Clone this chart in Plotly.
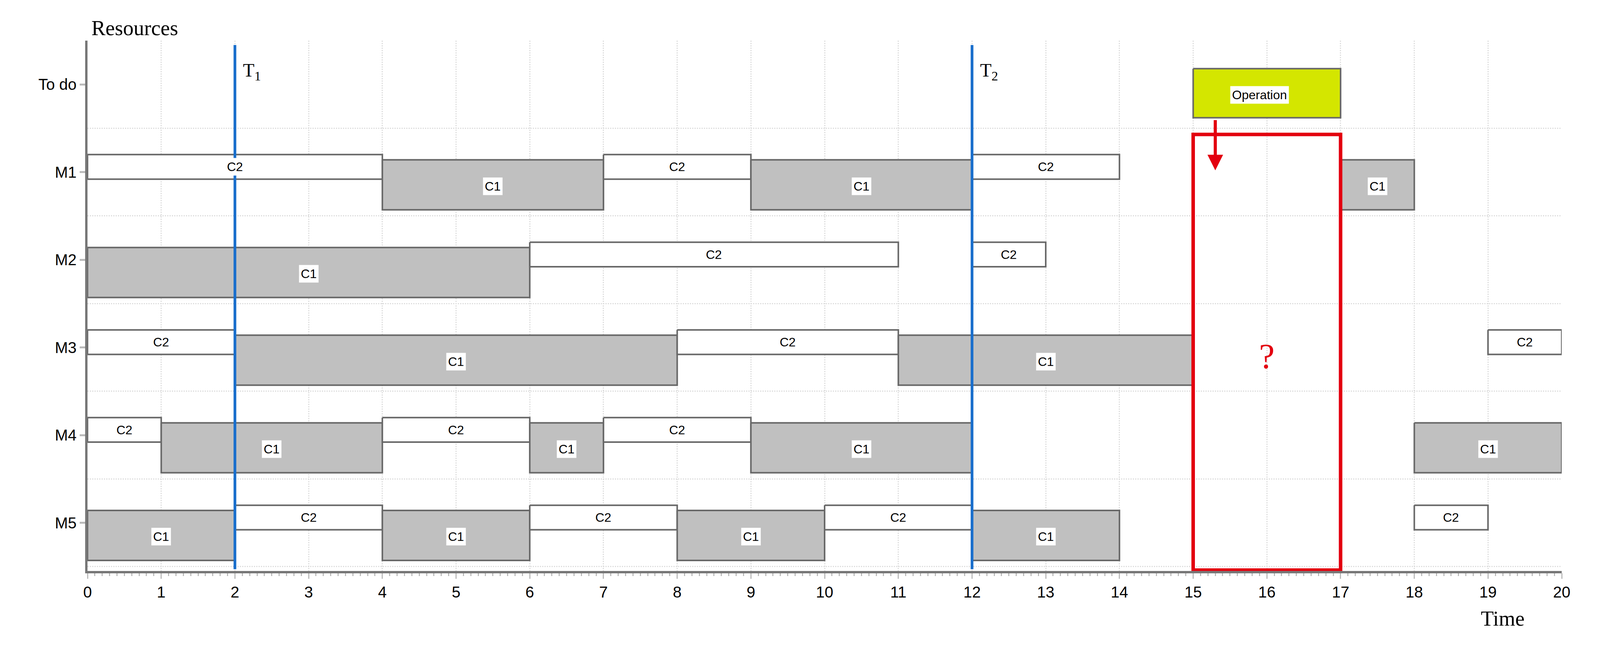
import plotly.graph_objects as go

rows = ["To do", "M1", "M2", "M3", "M4", "M5"]

# (row, class, start, end)
tasks = [
    ("M1", "C2", 0, 4), ("M1", "C1", 4, 7), ("M1", "C2", 7, 9), ("M1", "C1", 9, 12),
    ("M1", "C2", 12, 14), ("M1", "C1", 17, 18),
    ("M2", "C1", 0, 6), ("M2", "C2", 6, 11), ("M2", "C2", 12, 13),
    ("M3", "C2", 0, 2), ("M3", "C1", 2, 8), ("M3", "C2", 8, 11), ("M3", "C1", 11, 15),
    ("M3", "C2", 19, 20),
    ("M4", "C2", 0, 1), ("M4", "C1", 1, 4), ("M4", "C2", 4, 6), ("M4", "C1", 6, 7),
    ("M4", "C2", 7, 9), ("M4", "C1", 9, 12), ("M4", "C1", 18, 20),
    ("M5", "C1", 0, 2), ("M5", "C2", 2, 4), ("M5", "C1", 4, 6), ("M5", "C2", 6, 8),
    ("M5", "C1", 8, 10), ("M5", "C2", 10, 12), ("M5", "C1", 12, 14), ("M5", "C2", 18, 19),
]
operation = ("To do", 15, 17)
markers = [(2, "T<sub>1</sub>"), (12, "T<sub>2</sub>")]
gap = (15, 17)

# vertical extent of each class around the row centre
band = {"C1": (-0.14, 0.43), "C2": (-0.2, 0.08)}
fill = {"C1": "#c0c0c0", "C2": "white"}
label_y = {"C1": 0.16, "C2": -0.06}

fig = go.Figure()
ann = []
for row, cls, x0, x1 in tasks:
    r = rows.index(row)
    lo, hi = band[cls]
    fig.add_trace(go.Scatter(
        x=[x0, x1, x1, x0, x0], y=[r + lo, r + lo, r + hi, r + hi, r + lo],
        mode="lines", fill="toself", fillcolor=fill[cls],
        line=dict(color="#686868", width=4), hoverinfo="skip", showlegend=False
    ))
    ann.append(dict(x=(x0 + x1) / 2, y=r + label_y[cls], text=cls, showarrow=False,
                    bgcolor="white", borderpad=4,
                    font=dict(family="Liberation Sans", size=32, color="black")))

r = rows.index(operation[0])
ox0, ox1 = operation[1], operation[2]
fig.add_trace(go.Scatter(
    x=[ox0, ox1, ox1, ox0, ox0], y=[r - 0.18, r - 0.18, r + 0.38, r + 0.38, r - 0.18],
    mode="lines", fill="toself", fillcolor="#d4e600",
    line=dict(color="#686868", width=4), hoverinfo="skip", showlegend=False
))
ann.append(dict(x=(ox0 + ox1) / 2 - 0.1, y=r + 0.12, text="Operation", showarrow=False,
                bgcolor="white", borderpad=4,
                font=dict(family="Liberation Sans", size=32, color="black")))

shapes = []
for xm, txt in markers:
    shapes.append(dict(type="line", x0=xm, x1=xm, y0=-0.45, y1=5.53, xref="x", yref="y",
                       line=dict(color="#1a6fcc", width=7)))
    ann.append(dict(x=xm + 0.1, y=-0.15, text=txt, showarrow=False, xanchor="left",
                    font=dict(family="Liberation Serif", size=48, color="black")))

shapes.append(dict(type="rect", x0=gap[0], x1=gap[1], y0=0.57, y1=5.54, xref="x", yref="y",
                   line=dict(color="#e3000f", width=9)))
ann.append(dict(x=16, y=3.1, text="?", showarrow=False,
                font=dict(family="Liberation Serif", size=90, color="#e3000f")))
ann.append(dict(x=15.3, y=0.98, ax=15.3, ay=0.4, xref="x", yref="y", axref="x", ayref="y",
                showarrow=True, arrowhead=2, arrowsize=1, arrowwidth=8, arrowcolor="#e3000f", text=""))

ann.append(dict(x=0, y=1, xref="paper", yref="paper", text="Resources", showarrow=False,
                xanchor="left", yanchor="bottom", xshift=8,
                font=dict(family="Liberation Serif", size=54, color="black")))
ann.append(dict(x=0.96, y=0, xref="paper", yref="paper", text="Time", showarrow=False,
                xanchor="center", yanchor="top", yshift=-90,
                font=dict(family="Liberation Serif", size=54, color="black")))

fig.update_layout(
    width=4060, height=1630,
    margin=dict(l=216, r=70, t=96, b=176),
    plot_bgcolor="white", paper_bgcolor="white",
    shapes=shapes, annotations=ann,
    xaxis=dict(range=[0, 20], dtick=1, showgrid=True, gridcolor="#dddddd", griddash="dot",
               gridwidth=3, showline=True, linecolor="#777777", linewidth=6,
               ticks="outside", ticklen=14, tickwidth=3, tickcolor="#bbbbbb",
               minor=dict(dtick=0.1, ticks="outside", ticklen=7, tickcolor="#bbbbbb", showgrid=False),
               tickfont=dict(family="Liberation Sans", size=40, color="black"), zeroline=False),
    yaxis=dict(range=[5.55, -0.5], tickvals=list(range(len(rows))), ticktext=rows,
               showgrid=False, showline=True, linecolor="#777777", linewidth=6,
               ticks="outside", ticklen=14, tickwidth=5, tickcolor="#bbbbbb",
               minor=dict(tick0=0.5, dtick=1, showgrid=True, gridcolor="#dddddd",
                          griddash="dot", gridwidth=3, ticks=""),
               tickfont=dict(family="Liberation Sans", size=40, color="black"), zeroline=False),
)

fig.write_html("out.html")
